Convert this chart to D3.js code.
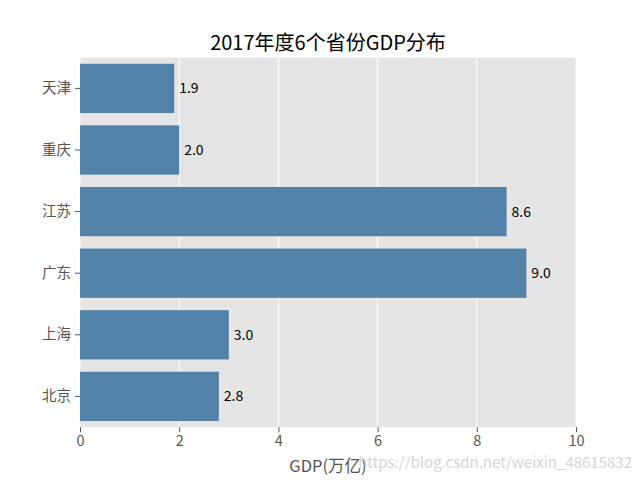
<!DOCTYPE html>
<html><head><meta charset="utf-8">
<script src="https://cdn.jsdelivr.net/npm/d3@7"></script>
<style>body{margin:0;background:#fff}svg{display:block}text{font-family:"Noto Sans CJK SC","Noto Sans",sans-serif}</style>
</head><body>
<svg id="c" width="640" height="480"></svg>
<script>
const provinces = ["天津","重庆","江苏","广东","上海","北京"];
const gdp = [1.9, 2.0, 8.6, 9.0, 3.0, 2.8];
const xTicks = [0, 2, 4, 6, 8, 10];
const title = "2017年度6个省份GDP分布";
const xLabel = "GDP(万亿)";
const watermark = "https://blog.csdn.net/weixin_48615832";

const svg = d3.select("#c");
const m = {l:80, r:576, t:57.6, b:427.2};
const x = d3.scaleLinear().domain([0,10]).range([m.l, m.r]);
const y = d3.scaleBand().domain(provinces).range([m.t, m.b]).paddingInner(0.2).paddingOuter(0.1);

svg.append("rect").attr("x",m.l).attr("y",m.t).attr("width",m.r-m.l).attr("height",m.b-m.t).attr("fill","#e5e5e5");
svg.append("g").selectAll("line").data(xTicks).join("line")
  .attr("x1",d=>x(d)).attr("x2",d=>x(d)).attr("y1",m.t).attr("y2",m.b)
  .attr("stroke","#fff").attr("stroke-width",1);

svg.append("g").selectAll("rect").data(provinces).join("rect")
  .attr("x",x(0)).attr("y",d=>y(d)).attr("height",y.bandwidth())
  .attr("width",(d,i)=>x(gdp[i])-x(0)).attr("fill","#5382a8");

svg.append("g").selectAll("text").data(provinces).join("text")
  .attr("x",(d,i)=>x(gdp[i]+0.1)).attr("y",d=>y(d)+y.bandwidth()/2)
  .attr("dy","0.35em").attr("font-size",14).attr("fill","#000")
  .text((d,i)=>gdp[i].toFixed(1));

const xa = svg.append("g").attr("transform",`translate(0,${m.b})`)
  .call(d3.axisBottom(x).tickValues(xTicks).tickSize(5).tickPadding(4).tickFormat(d3.format("d")));
xa.select(".domain").remove();
xa.selectAll("line").attr("stroke","#555");
xa.selectAll("text").attr("fill","#555").attr("font-size",14.5).attr("font-family",'"Noto Sans CJK SC",sans-serif');

const ya = svg.append("g").attr("transform",`translate(${m.l},0)`)
  .call(d3.axisLeft(y).tickSize(5).tickPadding(4));
ya.select(".domain").remove();
ya.selectAll("line").attr("stroke","#555");
ya.selectAll("text").attr("fill","#555").attr("font-size",14.5).attr("font-family",'"Noto Sans CJK SC",sans-serif');

svg.append("text").attr("x",(m.l+m.r)/2).attr("y",50).attr("text-anchor","middle")
  .attr("font-size",20).attr("fill","#000").text(title);
svg.append("text").attr("x",(m.l+m.r)/2).attr("y",472).attr("text-anchor","middle")
  .attr("font-size",16.5).attr("fill","#555").text(xLabel);
svg.append("text").attr("x",632).attr("y",468).attr("text-anchor","end")
  .attr("font-size",15).attr("fill","#d6d6d6").attr("font-family","Liberation Sans, Arial, sans-serif").text(watermark);
</script>
</body></html>
